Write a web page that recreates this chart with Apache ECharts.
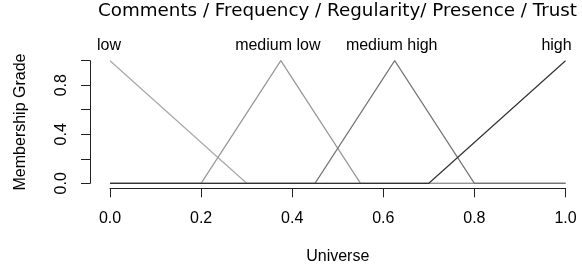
<!DOCTYPE html>
<html>
<head>
<meta charset="utf-8">
<script src="https://cdn.jsdelivr.net/npm/echarts@6/dist/echarts.min.js"></script>
<style>
  html, body { margin: 0; padding: 0; background: #fff; }
  #chart { width: 582px; height: 276px; }
</style>
</head>
<body>
<div id="chart"></div>
<script>
// membership functions: vertices [universe, grade]
const setNames = ['low', 'medium low', 'medium high', 'high']
const lowPts = [[0, 1], [0.3, 0], [1, 0]]
const medLowPts = [[0, 0], [0.2, 0], [0.375, 1], [0.55, 0], [1, 0]]
const medHighPts = [[0, 0], [0.45, 0], [0.625, 1], [0.8, 0], [1, 0]]
const highPts = [[0, 0], [0.7, 0], [1, 1]]
const peaks = [[0, 1], [0.375, 1], [0.625, 1], [1, 1]]
const xTicks = [0, 0.2, 0.4, 0.6, 0.8, 1]
const yLabelTicks = [0, 0.4, 0.8]

const colors = ['#a8a8a8', '#959595', '#757575', '#333333']
const labelShift = [-1, -3, -3, -9]
const allPts = [lowPts, medLowPts, medHighPts, highPts]

const chart = echarts.init(document.getElementById('chart'))

const labelFont = 'Liberation Sans, Arial, sans-serif'

chart.setOption({
  animation: false,
  title: {
    text: 'Comments / Frequency / Regularity/ Presence / Trust',
    left: 98,
    top: 2,
    padding: [0, 0, 0, 0],
    textStyle: { fontFamily: 'DejaVu Sans', fontWeight: 'normal', fontSize: 18.3, color: '#000' }
  },
  grid: { left: 110, right: 16.5, top: 60.7, bottom: 92.7 },
  xAxis: {
    type: 'value',
    min: 0,
    max: 1,
    interval: 0.2,
    offset: 5,
    name: 'Universe',
    nameLocation: 'middle',
    nameGap: 60,
    nameTextStyle: { fontFamily: labelFont, fontSize: 16, color: '#000' },
    axisLine: { show: true, onZero: false, lineStyle: { color: '#222', width: 1 } },
    axisTick: { show: true, length: 9, lineStyle: { color: '#222' } },
    axisLabel: {
      margin: 22,
      fontFamily: labelFont,
      fontSize: 16,
      color: '#000',
      formatter: v => xTicks.some(t => Math.abs(t - v) < 1e-9) ? v.toFixed(1) : ''
    },
    splitLine: { show: false }
  },
  yAxis: {
    type: 'value',
    min: 0,
    max: 1,
    interval: 0.2,
    offset: 20,
    name: 'Membership Grade',
    nameLocation: 'middle',
    nameGap: 61,
    nameRotate: 90,
    nameTextStyle: { fontFamily: labelFont, fontSize: 16, color: '#000' },
    axisLine: { show: true, onZero: false, lineStyle: { color: '#222', width: 1 } },
    axisTick: { show: true, length: 9, lineStyle: { color: '#222' } },
    axisLabel: {
      rotate: 90,
      margin: 20,
      fontFamily: labelFont,
      fontSize: 16,
      color: '#000',
      formatter: v => yLabelTicks.some(t => Math.abs(t - v) < 1e-9) ? v.toFixed(1) : ''
    },
    splitLine: { show: false }
  },
  series: allPts.map((pts, i) => ({
    name: setNames[i],
    type: 'line',
    data: pts,
    symbol: 'none',
    clip: false,
    lineStyle: { color: colors[i], width: 1.2 },
    markPoint: {
      symbol: 'circle',
      symbolSize: 0,
      data: [{ coord: peaks[i], name: setNames[i] }],
      label: {
        show: true,
        position: 'inside',
        offset: [labelShift[i], -15],
        formatter: setNames[i],
        fontFamily: labelFont,
        fontSize: 16,
        color: '#000'
      }
    }
  }))
})
</script>
</body>
</html>
